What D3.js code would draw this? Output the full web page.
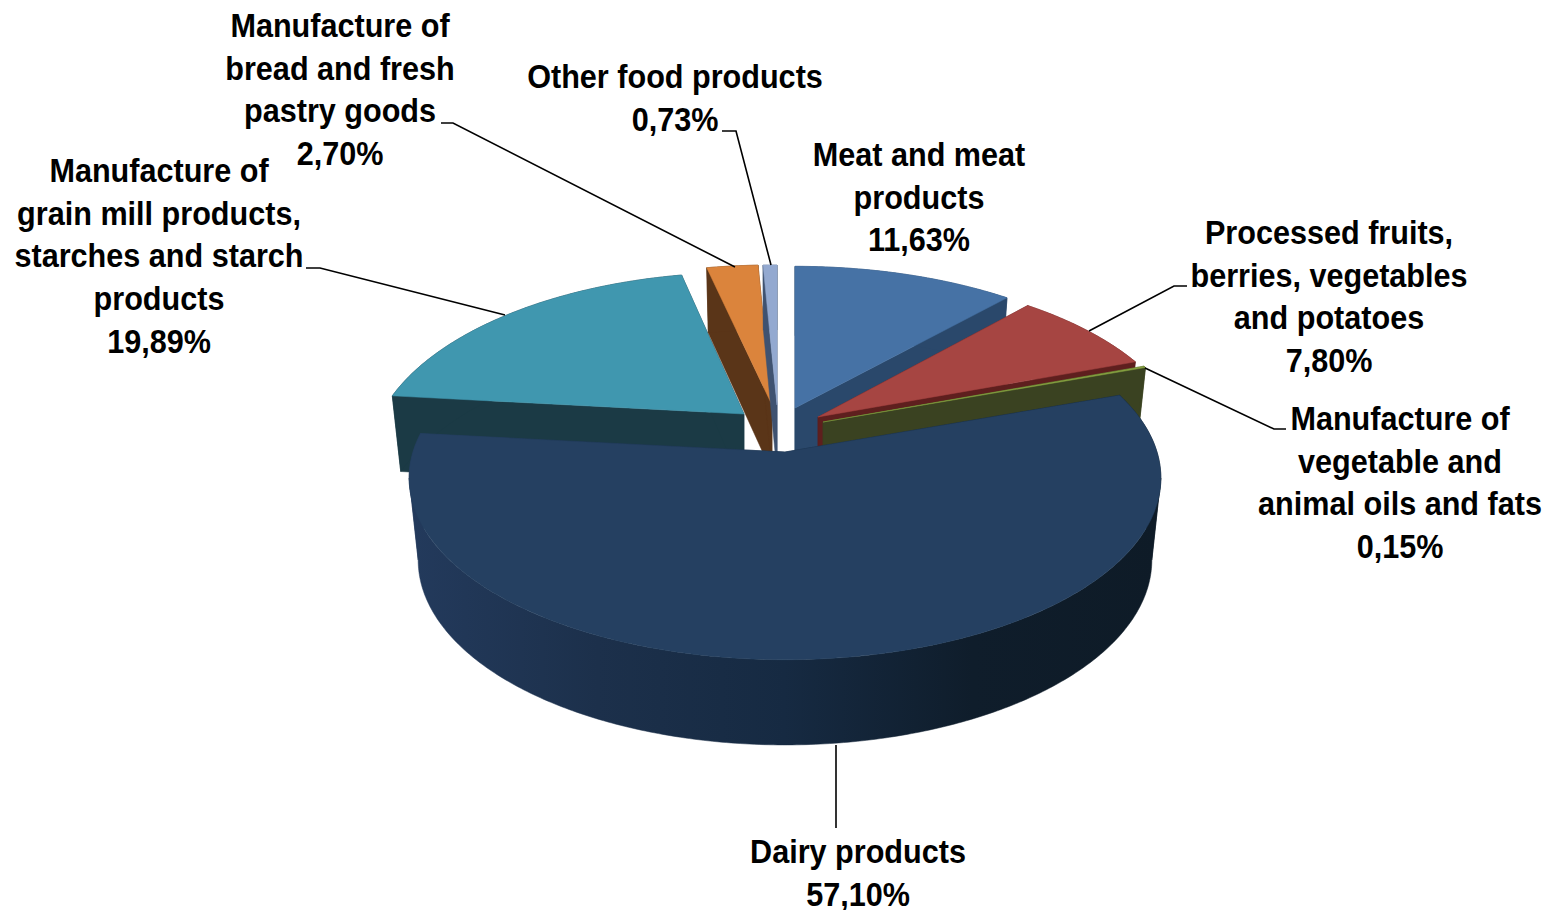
<!DOCTYPE html>
<html><head><meta charset="utf-8">
<script src="https://cdn.jsdelivr.net/npm/d3@7/dist/d3.min.js"></script>
<style>html,body{margin:0;padding:0;background:#fff;overflow:hidden}
text{font-family:"Liberation Sans",sans-serif;font-weight:700;font-size:34px;fill:#000;text-anchor:middle}</style>
</head><body><svg id="c" width="1554" height="910"></svg>
<script>
const labels = [
  ["Meat and meat","products"],
  ["Processed fruits,","berries, vegetables","and potatoes"],
  ["Manufacture of","vegetable and","animal oils and fats"],
  ["Dairy products"],
  ["Manufacture of","grain mill products,","starches and starch","products"],
  ["Manufacture of","bread and fresh","pastry goods"],
  ["Other food products"]
];
const shares = [11.63, 7.80, 0.15, 57.10, 19.89, 2.70, 0.73];
const shareText = ["11,63%","7,80%","0,15%","57,10%","19,89%","2,70%","0,73%"];
const topColors  = ["#4672A5","#A64542","#85A040","#254061","#4097AF","#DB843C","#93A9D0"];
const wallColors = ["#2A486B","#5E1F1E","#3A4221","url(#dairySide)","#1B3A45","#5A3518","#3F5270"];

// layout of the exploded 3D pie, one entry per slice
const apexX = [795,818,823,785,744,772,777];
const apexY = [408,417,422,452,414,405,405];
const radX  = [365,361,365,372,363,365,365];
const radY  = [170,172,174,178,177,168,168];
const persp = [0.2,0.2,0.2,0.143,0.25,0.2,0.2];
const depth = [72,72,72,81.5,76,67.5,67.5];
const shrinkX = 0.976, growY = 1.018;
const labelX = [919,1329,1400,858,159,340,675];
const labelY = [166,244,430,863,182,37,88];
const lineH = 42.7;
const leaders = [
  null,
  [[1187,286],[1174,286],[1089,331]],
  [[1286,429],[1274,429],[1145,368]],
  [[836,745],[836,828]],
  [[306,268],[320,268],[505,315]],
  [[441,123],[453,123],[735,267]],
  [[722,131],[736,131],[771,265]]
];

const svg = d3.select("#c");
const grad = svg.append("defs").append("linearGradient").attr("id","dairySide")
  .attr("gradientUnits","userSpaceOnUse").attr("x1",410).attr("x2",1160).attr("y1",0).attr("y2",0);
[[0,"#233A5C"],[0.25,"#1C304B"],[0.5,"#162A42"],[0.75,"#0F1D2B"],[1,"#0E1B27"]]
  .forEach(s=>grad.append("stop").attr("offset",s[0]).attr("stop-color",s[1]));

const arcs = d3.pie().sort(null).value(d=>d).startAngle(0).endAngle(2*Math.PI)(shares);
const line = d3.line();

function topPt(i,a,r=1){
  const u=r*Math.sin(a), v=r*Math.cos(a), w=1+persp[i]*v;
  return [apexX[i]+radX[i]*u/w, apexY[i]-radY[i]*v/w];
}
function botPt(i,a,r=1){
  const u=r*Math.sin(a), v=r*Math.cos(a), w=1+persp[i]*v;
  return [apexX[i]+shrinkX*radX[i]*u/w, apexY[i]+depth[i]-growY*radY[i]*v/w];
}
function arcPts(i,a0,a1,fn){
  const n=Math.max(2,Math.ceil((a1-a0)*90));
  return d3.range(n+1).map(k=>fn(i,a0+(a1-a0)*k/n));
}
const g = svg.append("g");
const order = [4,5,6,0,1,2,3];
order.forEach(i=>{
  const a0=arcs[i].startAngle,a1=arcs[i].endAngle;
  const wall=wallColors[i], top=topColors[i];
  const poly=p=>g.append("path").attr("d",line(p)+"Z").attr("fill",wall).attr("stroke",wall).attr("stroke-width",0.5);
  poly([topPt(i,a0,0),topPt(i,a0),botPt(i,a0),botPt(i,a0,0)]);
  poly([topPt(i,a1,0),topPt(i,a1),botPt(i,a1),botPt(i,a1,0)]);
  // outer wall, split where the rim turns back on itself so the ribbon never cancels out
  const turn=Math.acos(-persp[i]);
  const cuts=[a0,...[turn,2*Math.PI-turn].filter(c=>c>a0&&c<a1),a1];
  d3.pairs(cuts).forEach(([c0,c1])=>poly(arcPts(i,c0,c1,topPt).concat(arcPts(i,c0,c1,botPt).reverse())));
  const t=arcPts(i,a0,a1,topPt);
  g.append("path").attr("d",line([topPt(i,a0,0)].concat(t))+"Z").attr("fill",top).attr("stroke",top).attr("stroke-width",0.5);
});

leaders.forEach(p=>{ if(p) svg.append("path").attr("d",line(p)).attr("fill","none").attr("stroke","#000").attr("stroke-width",1.6); });

labels.forEach((ls,i)=>{
  const t=svg.append("text").attr("transform",`translate(${labelX[i]},${labelY[i]}) scale(0.9,1)`);
  ls.concat([shareText[i]]).forEach((s,k)=>t.append("tspan").attr("x",0).attr("y",k*lineH).text(s));
});
</script></body></html>
